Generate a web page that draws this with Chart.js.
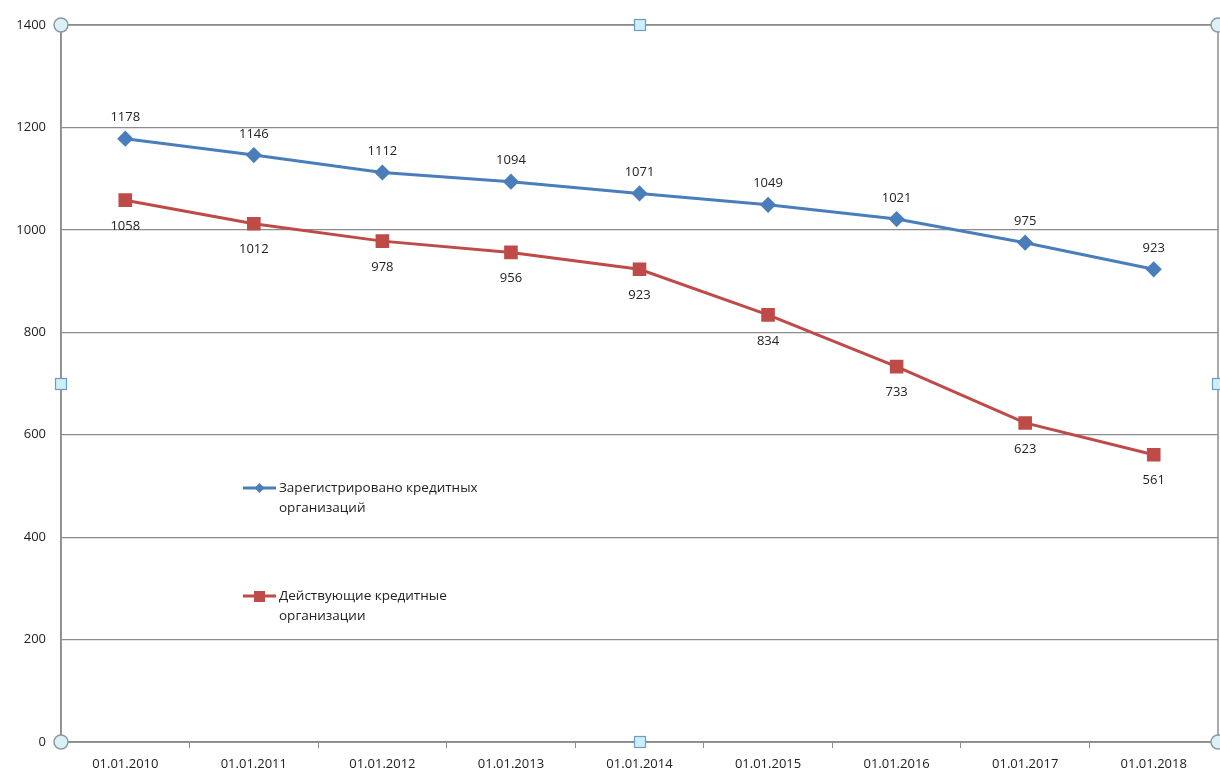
<!DOCTYPE html>
<html>
<head>
<meta charset="utf-8">
<script src="https://cdn.jsdelivr.net/npm/chart.js@4/dist/chart.umd.min.js"></script>
<style>
  html, body { margin: 0; padding: 0; background: #fff; overflow: hidden; }
  canvas { display: block; }
</style>
</head>
<body>
<canvas id="chart" width="1220" height="769"></canvas>
<script>
// chart data
const categories = ['01.01.2010', '01.01.2011', '01.01.2012', '01.01.2013', '01.01.2014',
                    '01.01.2015', '01.01.2016', '01.01.2017', '01.01.2018'];
const registered = [1178, 1146, 1112, 1094, 1071, 1049, 1021, 975, 923];
const active = [1058, 1012, 978, 956, 923, 834, 733, 623, 561];
const seriesNames = [['Зарегистрировано кредитных', 'организаций'], ['Действующие кредитные', 'организации']];
const yTicks = [0, 200, 400, 600, 800, 1000, 1200, 1400];

const FONT = '"Open Sans", "Noto Sans", sans-serif';
const BLUE = '#4a7ebb';
const RED = '#be4b48';

// value labels above (blue) / below (red) each point
const labelsPlugin = {
    id: 'valueLabels',
    afterDatasetsDraw(chart) {
        const ctx = chart.ctx;
        ctx.save();
        ctx.font = '13px ' + FONT;
        ctx.fillStyle = '#222';
        ctx.textAlign = 'center';
        ctx.textBaseline = 'middle';
        chart.data.datasets.forEach((ds, i) => {
            const meta = chart.getDatasetMeta(i);
            meta.data.forEach((pt, j) => {
                const dy = i === 0 ? -21 : 26;
                ctx.fillText(String(ds.data[j]), pt.x, pt.y + dy);
            });
        });
        ctx.restore();
    }
};

// legend drawn inside the plot area
const legendPlugin = {
    id: 'innerLegend',
    afterDraw(chart) {
        const ctx = chart.ctx;
        const items = [
            { color: BLUE, style: 'rectRot', y: 488 },
            { color: RED, style: 'rect', y: 596 }
        ];
        ctx.save();
        items.forEach((it, i) => {
            ctx.strokeStyle = it.color;
            ctx.lineWidth = 3;
            ctx.beginPath();
            ctx.moveTo(243, it.y);
            ctx.lineTo(276, it.y);
            ctx.stroke();
            ctx.fillStyle = it.color;
            if (it.style === 'rect') {
                ctx.fillRect(254, it.y - 5, 11, 11);
            } else {
                ctx.beginPath();
                ctx.moveTo(259.5, it.y - 5);
                ctx.lineTo(264.5, it.y);
                ctx.lineTo(259.5, it.y + 5);
                ctx.lineTo(254.5, it.y);
                ctx.closePath();
                ctx.fill();
            }
            ctx.font = '13.5px ' + FONT;
            ctx.fillStyle = '#222';
            ctx.textAlign = 'left';
            ctx.textBaseline = 'middle';
            seriesNames[i].forEach((line, k) => ctx.fillText(line, 279, it.y + k * 20));
        });
        ctx.restore();
    }
};

// plot area border and selection handles
const framePlugin = {
    id: 'frame',
    afterDraw(chart) {
        const a = chart.chartArea;
        const ctx = chart.ctx;
        ctx.save();
        ctx.strokeStyle = '#8c8c8c';
        ctx.lineWidth = 1.5;
        ctx.strokeRect(a.left, a.top, a.right - a.left, a.bottom - a.top);
        const mx = Math.round((a.left + a.right) / 2);
        const my = Math.round((a.top + a.bottom) / 2);
        [[a.left, a.top], [a.right, a.top], [a.left, a.bottom], [a.right, a.bottom]].forEach(([x, y]) => {
            ctx.beginPath();
            ctx.arc(x, y, 7, 0, Math.PI * 2);
            ctx.fillStyle = '#dcf1f6';
            ctx.fill();
            ctx.strokeStyle = '#8a9aa3';
            ctx.lineWidth = 1.5;
            ctx.stroke();
        });
        [[mx, a.top], [mx, a.bottom], [a.left, my], [a.right, my]].forEach(([x, y]) => {
            ctx.fillStyle = '#cdeffc';
            ctx.fillRect(x - 5.5, y - 5.5, 11, 11);
            ctx.strokeStyle = '#6f9cc4';
            ctx.lineWidth = 1.2;
            ctx.strokeRect(x - 5.5, y - 5.5, 11, 11);
        });
        ctx.restore();
    }
};

const ctx = document.getElementById('chart').getContext('2d');
const chart = new Chart(ctx, {
    type: 'line',
    data: {
        labels: categories,
        datasets: [{
            label: seriesNames[0].join(' '),
            data: registered,
            borderColor: BLUE,
            backgroundColor: BLUE,
            borderWidth: 3,
            pointStyle: 'rectRot',
            pointRadius: 6,
            pointHoverRadius: 6,
            tension: 0
        }, {
            label: seriesNames[1].join(' '),
            data: active,
            borderColor: RED,
            backgroundColor: RED,
            borderWidth: 3,
            pointStyle: 'rect',
            pointRadius: 7.5,
            pointHoverRadius: 7.5,
            tension: 0
        }]
    },
    options: {
        responsive: false,
        animation: false,
        layout: { autoPadding: false, padding: { top: 25, right: 2, left: 0, bottom: 0 } },
        plugins: {
            legend: { display: false },
            tooltip: { enabled: false }
        },
        scales: {
            x: {
                offset: true,
                grid: {
                    offset: true,
                    drawOnChartArea: false,
                    drawTicks: true,
                    tickLength: 6,
                    color: '#8c8c8c'
                },
                border: { color: '#8c8c8c', width: 1.5 },
                ticks: {
                    font: { family: FONT, size: 13 },
                    color: '#222',
                    maxRotation: 0,
                    padding: 8
                },
                afterFit(scale) {
                    scale.height = 27;
                    scale.paddingLeft = 0;
                    scale.paddingRight = 0;
                }
            },
            y: {
                min: 0,
                max: 1400,
                afterBuildTicks(scale) { scale.ticks = yTicks.map(v => ({ value: v })); },
                grid: { color: '#8c8c8c', lineWidth: 1.2, drawTicks: false },
                border: { color: '#8c8c8c', width: 1.5 },
                ticks: {
                    font: { family: FONT, size: 13 },
                    color: '#222',
                    padding: 15,
                    callback: v => String(v)
                },
                afterFit(scale) {
                    scale.width = 61;
                    scale.paddingTop = 0;
                    scale.paddingBottom = 0;
                }
            }
        }
    },
    plugins: [labelsPlugin, legendPlugin, framePlugin]
});
</script>
</body>
</html>
